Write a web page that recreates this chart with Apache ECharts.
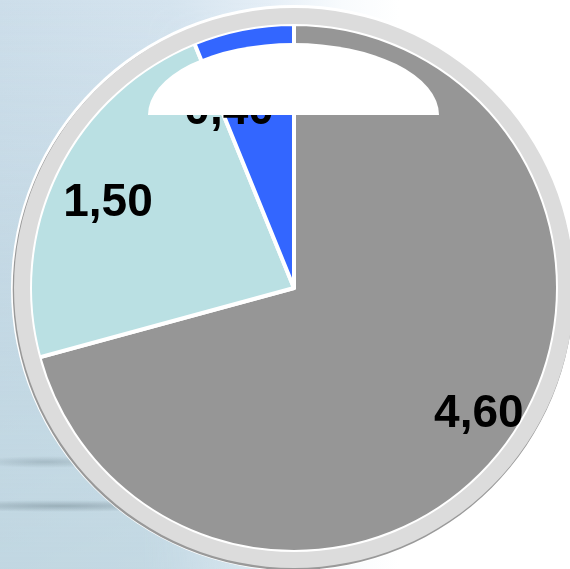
<!DOCTYPE html>
<html>
<head>
<meta charset="utf-8">
<script src="https://cdn.jsdelivr.net/npm/echarts@6/dist/echarts.min.js"></script>
<style>
  html, body { margin: 0; padding: 0; width: 570px; height: 569px; overflow: hidden; }
  body {
    position: relative;
    background: linear-gradient(90deg, #cddeea 0%, #d5e4ef 30%, #e6eff7 48%, #f8fbfd 60%, #ffffff 70%);
  }
  #streaks {
    position: absolute; left: 0; top: 0; width: 570px; height: 569px;
    background:
      radial-gradient(ellipse 70px 6px at 45px 462px, rgba(110,130,140,0.35), rgba(110,130,140,0) 100%),
      radial-gradient(ellipse 140px 6px at 60px 506px, rgba(105,125,135,0.45), rgba(110,130,140,0) 100%),
      linear-gradient(180deg, rgba(185,210,222,0) 0%, rgba(185,210,222,0.45) 45%, rgba(188,212,222,0.7) 100%);
    -webkit-mask-image: linear-gradient(90deg, #000 0%, #000 25%, transparent 55%);
    mask-image: linear-gradient(90deg, #000 0%, #000 25%, transparent 55%);
  }
  #chart { position: absolute; left: 0; top: 0; width: 570px; height: 569px; }
  #cover {
    position: absolute; left: 148px; top: 43px; width: 291px; height: 72px;
    background: #ffffff;
    border-radius: 50% 50% 0 0 / 100% 100% 0 0;
  }
</style>
</head>
<body>
<div id="streaks"></div>
<div id="chart"></div>
<div id="cover"></div>
<script>
// ---- data ----
const categories = ['A', 'B', 'C'];
const values = [4.60, 1.50, 0.40];
const sliceColors = ['#969696', '#bae0e3', '#3366ff'];
// label nudges (styling only)
const labelNudges = [[20, 0], [0, 7], [-25, 27]];

const CX = 294, CY = 288, R = 264;

const chart = echarts.init(document.getElementById('chart'), null, { renderer: 'canvas' });

const fmt = v => v.toFixed(2).replace('.', ',');

const option = {
  backgroundColor: 'transparent',
  animation: false,
  series: [
    // white outline disc
    {
      type: 'pie', silent: true, center: [CX, CY], radius: [0, 283],
      label: { show: false }, labelLine: { show: false },
      itemStyle: { color: '#ffffff' }, data: [1], z: 1
    },
    // thin gray edge (slightly offset down-left)
    {
      type: 'pie', silent: true, center: [CX - 0.8, CY + 1.6], radius: [0, 280.5],
      label: { show: false }, labelLine: { show: false },
      itemStyle: { color: '#999999' }, data: [1], z: 2
    },
    // main pie
    {
      type: 'pie', center: [CX, CY], radius: [0, R], startAngle: 90, clockwise: true,
      avoidLabelOverlap: false,
      label: { show: false }, labelLine: { show: false },
      itemStyle: { borderColor: '#ffffff', borderWidth: 4 },
      data: categories.map((c, i) => ({ name: c, value: values[i], itemStyle: { color: sliceColors[i] } })),
      z: 3
    },
    // ring
    {
      type: 'pie', silent: true, center: [CX, CY], radius: [R, 280],
      label: { show: false }, labelLine: { show: false },
      itemStyle: { color: '#dcdcdc' }, data: [1], z: 4
    },
    // labels overlay
    {
      type: 'pie', silent: true, center: [CX, CY], radius: [145, R], startAngle: 90, clockwise: true,
      avoidLabelOverlap: false,
      labelLine: { show: false },
      itemStyle: { color: 'rgba(0,0,0,0)' },
      label: {
        show: true, position: 'inside',
        fontFamily: 'Liberation Sans, Arial, sans-serif', fontWeight: 'bold', fontSize: 46,
        color: '#000000',
        formatter: p => fmt(p.value)
      },
      data: categories.map((c, i) => ({ name: c, value: values[i], label: { offset: labelNudges[i] } })),
      z: 5
    }
  ]
};
chart.setOption(option);
</script>
</body>
</html>
